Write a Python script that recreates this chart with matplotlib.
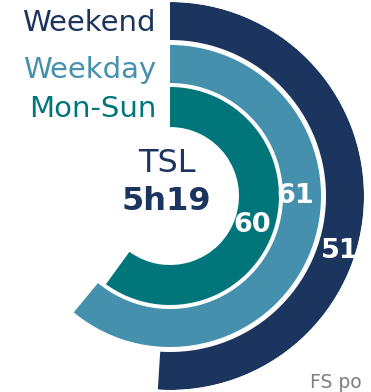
import matplotlib.pyplot as plt
import numpy as np

# share of listening (%) per segment, drawn as concentric rings
segments = ["Mon-Sun", "Weekday", "Weekend"]
shares = [60, 61, 51]
colors = ["#00767a", "#4490ad", "#1c355e"]
ring_inner = [69, 113, 156]
ring_outer = [109, 151, 194]
label_theta = [109.5, 90, 108]
label_r = [87, 125, 179]

total_label = "TSL"
total_value = "5h19"
source = "FS po"

W, H = 371, 392
cx, cy, R = 170, 196, 194

fig = plt.figure(figsize=(W / 100, H / 100), dpi=100)
ax = fig.add_axes([(cx - R) / W, (H - cy - R) / H, 2 * R / W, 2 * R / H],
                  projection="polar")
ax.set_theta_zero_location("N")
ax.set_theta_direction(-1)
ax.set_rlim(0, R)
ax.axis("off")

for share, col, r0, r1 in zip(shares, colors, ring_inner, ring_outer):
    ax.bar(0, r1 - r0, width=np.deg2rad(share / 100 * 360), bottom=r0,
           align="edge", color=col, linewidth=0)

for share, th, r in zip(shares, label_theta, label_r):
    ax.text(np.deg2rad(th), r, f"{share}", color="white", fontsize=19.5,
            fontweight="bold", ha="center", va="center")


def fx(px):
    return px / W


def fy(py):
    return 1 - py / H


# legend as stacked coloured words
for name, col, y in zip(segments, colors, [117, 78, 31]):
    fig.text(fx(156), fy(y), name, color=col, fontsize=21,
             ha="right", va="baseline")

fig.text(fx(167), fy(163), total_label, color="#1c355e", fontsize=23,
         ha="center", va="center")
fig.text(fx(166), fy(201), total_value, color="#1c355e", fontsize=23,
         fontweight="bold", ha="center", va="center")

fig.text(fx(310), fy(388), source, color="#7f7f7f", fontsize=13.5,
         ha="left", va="baseline")

fig.savefig("out.png", dpi=100)
